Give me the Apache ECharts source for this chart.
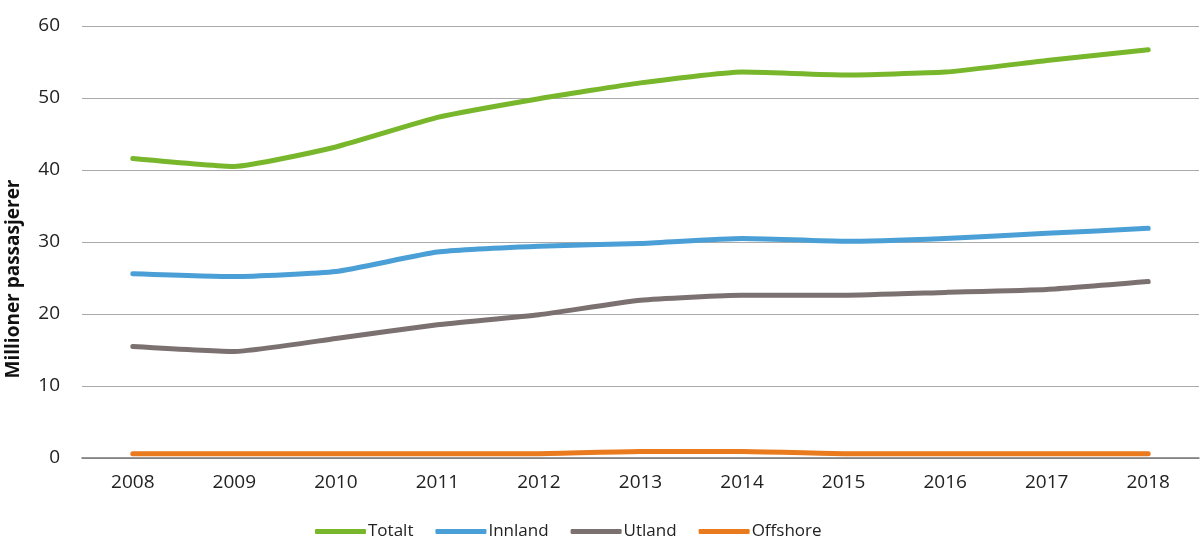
<!DOCTYPE html>
<html><head><meta charset="utf-8">
<script src="https://cdn.jsdelivr.net/npm/echarts@6/dist/echarts.min.js"></script>
<style>html,body{margin:0;padding:0;background:#fff}#c{width:1200px;height:558px}</style>
</head><body><div id="c"></div>
<script>
const years = ['2008','2009','2010','2011','2012','2013','2014','2015','2016','2017','2018'];
const totalt = [41.6,40.5,43.2,47.3,49.9,52.1,53.6,53.2,53.6,55.2,56.7];
const innland = [25.6,25.2,25.9,28.6,29.4,29.8,30.5,30.1,30.5,31.2,31.9];
const utland = [15.5,14.8,16.6,18.5,19.9,21.9,22.6,22.6,23.0,23.4,24.5];
const offshore = [0.6,0.6,0.6,0.6,0.6,0.9,0.9,0.6,0.6,0.6,0.6];
const yTicks = [0,10,20,30,40,50,60];
const yTitle = 'Millioner passasjerer';

const chart = echarts.init(document.getElementById('c'));
const font = 'Open Sans';
function s(name, data, color){
  return {name, type:'line', data, smooth:0.15, symbol:'none',
    lineStyle:{width:5, color, cap:'round', join:'round'}, itemStyle:{color}};
}
chart.setOption({
  animation:false,
  textStyle:{fontFamily:font},
  grid:{left:82, right:1, top:26, bottom:100},
  graphic:[{type:'text', x:14, y:279, rotation:Math.PI/2,
    style:{text:yTitle, fontFamily:font, fontSize:19, fontWeight:'bold', fill:'#111',
      align:'center', verticalAlign:'middle'}}],
  legend:{top:518, left:310, itemWidth:51, itemHeight:5, itemGap:22,
    icon:'roundRect',
    textStyle:{fontSize:17, color:'#222', fontFamily:font, padding:[0,0,0,-3]},
    data:['Totalt','Innland','Utland','Offshore']},
  xAxis:{type:'category', data:years, boundaryGap:true,
    axisLine:{show:true, lineStyle:{color:'#777', width:1.5}},
    axisTick:{show:false},
    axisLabel:{fontSize:19, color:'#222', margin:15}},
  yAxis:{type:'value', min:0, max:60, interval:10,
    axisLine:{show:false}, axisTick:{show:false},
    axisLabel:{fontSize:19, color:'#222', margin:22,
      formatter:v=>yTicks.includes(v)?String(v):''},
    splitLine:{lineStyle:{color:'#aaa', width:1.2}}},
  series:[
    s('Totalt', totalt, '#78b72b'),
    s('Innland', innland, '#4a9fd6'),
    s('Utland', utland, '#7b7171'),
    s('Offshore', offshore, '#ea7a1e')
  ]
});
</script></body></html>
